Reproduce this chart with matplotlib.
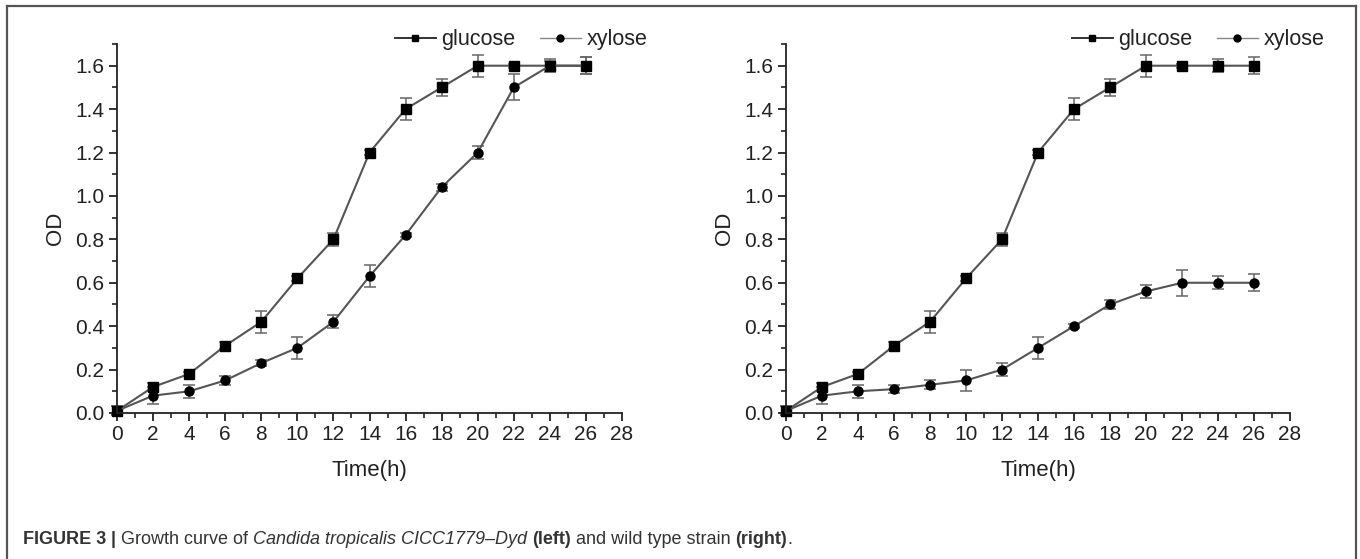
import matplotlib
matplotlib.use("Agg")
import matplotlib.pyplot as plt
from matplotlib.ticker import MultipleLocator
from matplotlib.lines import Line2D

plt.rcParams["font.family"] = ["Liberation Sans", "DejaVu Sans"]

# ── data ─────────────────────────────────────────────────
time_h = [0, 2, 4, 6, 8, 10, 12, 14, 16, 18, 20, 22, 24, 26]

glucose = [0.01, 0.12, 0.18, 0.31, 0.42, 0.62, 0.80, 1.20, 1.40, 1.50, 1.60, 1.60, 1.60, 1.60]
glucose_err = [0.02, 0.02, 0.01, 0.015, 0.05, 0.01, 0.03, 0.01, 0.05, 0.04, 0.05, 0.01, 0.03, 0.04]

# left: CICC1779-Dyd
xylose_left = [0.01, 0.08, 0.10, 0.15, 0.23, 0.30, 0.42, 0.63, 0.82, 1.04, 1.20, 1.50, 1.60, 1.60]
xylose_left_err = [0.02, 0.04, 0.03, 0.02, 0.015, 0.05, 0.03, 0.05, 0.01, 0.015, 0.03, 0.06, 0.02, 0.04]

# right: wild type
xylose_right = [0.01, 0.08, 0.10, 0.11, 0.13, 0.15, 0.20, 0.30, 0.40, 0.50, 0.56, 0.60, 0.60, 0.60]
xylose_right_err = [0.02, 0.04, 0.03, 0.02, 0.02, 0.05, 0.03, 0.05, 0.01, 0.02, 0.03, 0.06, 0.03, 0.04]

x_ticks = list(range(0, 29, 2))
y_ticks = [0.0, 0.2, 0.4, 0.6, 0.8, 1.0, 1.2, 1.4, 1.6]

LINE = "#555555"
W, H = 1360, 559

fig = plt.figure(figsize=(W / 100, H / 100), dpi=100)


def px_axes(x0, x1, ytop, ybot):
    return fig.add_axes([x0 / W, 1 - ybot / H, (x1 - x0) / W, (ybot - ytop) / H])


def draw_panel(ax, xylose, xylose_err):
    ax.errorbar(time_h, glucose, yerr=glucose_err, color=LINE, lw=1.5,
                marker="s", ms=6.5, mfc="black", mec="black",
                ecolor="#666666", elinewidth=1.1, capsize=4, capthick=1.1)
    ax.errorbar(time_h, xylose, yerr=xylose_err, color=LINE, lw=1.5,
                marker="o", ms=6.5, mfc="black", mec="black",
                ecolor="#666666", elinewidth=1.1, capsize=4, capthick=1.1)
    ax.set_xlim(0, 28)
    ax.set_ylim(0, 1.7)
    ax.set_xticks(x_ticks)
    ax.set_yticks(y_ticks)
    ax.set_yticklabels([f"{v:.1f}" for v in y_ticks])
    ax.xaxis.set_minor_locator(MultipleLocator(1))
    ax.yaxis.set_minor_locator(MultipleLocator(0.1))
    for s in ("top", "right"):
        ax.spines[s].set_visible(False)
    for s in ("left", "bottom"):
        ax.spines[s].set_linewidth(1.3)
        ax.spines[s].set_color("#222222")
    ax.tick_params(which="major", direction="out", length=6, width=1.3,
                   labelsize=15, pad=3, colors="#222222")
    ax.tick_params(which="minor", direction="out", length=3.5, width=1.2,
                   colors="#222222")
    ax.set_xlabel("Time(h)", fontsize=16, labelpad=11, color="#222222")
    ax.set_ylabel("OD", fontsize=16, labelpad=7, color="#222222")
    for c in ax.get_children():
        if hasattr(c, "set_clip_on"):
            c.set_clip_on(False)


ax_left = px_axes(117, 622, 44, 413)
ax_right = px_axes(786, 1290, 44, 413)
draw_panel(ax_left, xylose_left, xylose_left_err)
draw_panel(ax_right, xylose_right, xylose_right_err)

handles = [
    Line2D([], [], color="#333333", lw=1.4, marker="s", ms=5, mfc="black", mec="black"),
    Line2D([], [], color="#888888", lw=1.0, marker="o", ms=5, mfc="black", mec="black"),
]
for cx in (521, 1198):
    fig.legend(handles, ["glucose", "xylose"], loc="center",
               bbox_to_anchor=(cx / W, 1 - 40 / H), ncol=2, frameon=False,
               fontsize=15.5, handlelength=1.9, handletextpad=0.25,
               columnspacing=1.15, labelcolor="#222222")

# outer frame (bottom edge falls outside the image)
frame_kw = dict(color="#555555", lw=1.6, transform=fig.transFigure)
fig.add_artist(Line2D([7 / W, 7 / W], [0, 1 - 6 / H], **frame_kw))
fig.add_artist(Line2D([7 / W, 1356 / W], [1 - 6 / H, 1 - 6 / H], **frame_kw))
fig.add_artist(Line2D([1356 / W, 1356 / W], [0, 1 - 6 / H], **frame_kw))

# caption, built from segments with different weights / styles
caption = [
    ("FIGURE 3 ", "bold", "normal"),
    ("| ", "bold", "normal"),
    ("Growth curve of ", "normal", "normal"),
    ("Candida tropicalis CICC1779\u2013Dyd", "normal", "italic"),
    (" ", "normal", "normal"),
    ("(left)", "bold", "normal"),
    (" and wild type strain ", "normal", "normal"),
    ("(right)", "bold", "normal"),
    (".", "normal", "normal"),
]
fig.canvas.draw()
renderer = fig.canvas.get_renderer()
x = 23 / W
for txt, weight, style in caption:
    t = fig.text(x, 1 - 539 / H, txt, fontsize=13, fontweight=weight,
                 fontstyle=style, color="#333333", va="center", ha="left")
    bb = t.get_window_extent(renderer=renderer)
    x += bb.width / W

fig.savefig("out.png", dpi=100)
